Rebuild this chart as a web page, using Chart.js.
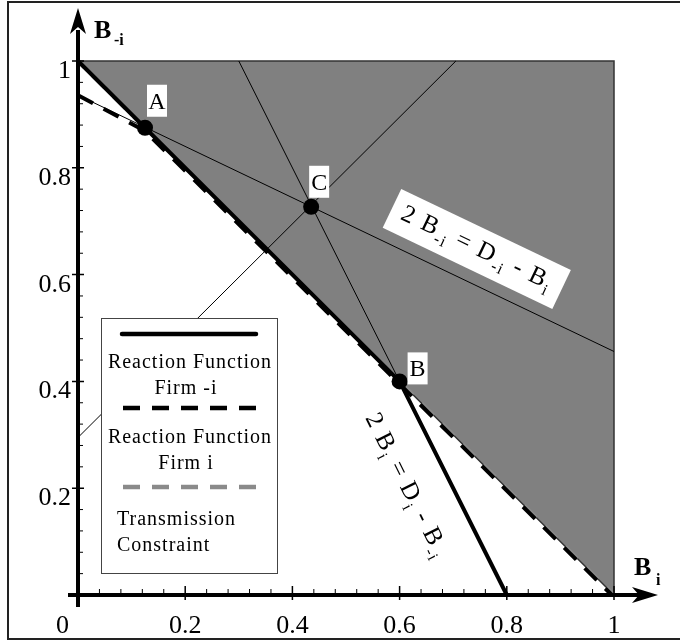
<!DOCTYPE html>
<html>
<head>
<meta charset="utf-8">
<script src="https://cdn.jsdelivr.net/npm/chart.js@4.4.1/dist/chart.umd.min.js"></script>
<style>
html, body { margin: 0; padding: 0; background: #fff; }
canvas { display: block; }
</style>
</head>
<body>
<canvas id="grafico" width="680" height="641"></canvas>
<script>
// reaction function firm -i (solid, kinks at B)
const solidX = [0, 0.6, 0.8]
const solidY = [1, 0.4, 0]
// reaction function firm i (black dashed), runs just under the solid one
const dashX = [0, 0.125, 0.996]
const dashY = [0.936, 0.869, 0]
// transmission constraint (grey dashed)
const constrX = [0, 1]
const constrY = [1, 0]
// thin lines
const lineMiX = [0, 1]          // 2 B-i = D-i - Bi
const lineMiY = [0.936, 0.456]
const lineIX = [0.3, 0.6]       // 2 Bi = Di - B-i
const lineIY = [1, 0.4]
const diagX = [0, 0.705]
const diagY = [0.295, 1]
// shaded region
const areaX = [0, 1, 1, 0]
const areaY = [1, 1, 0, 1]
// named points
const ptNames = ['A', 'B', 'C']
const ptX = [0.125, 0.6, 0.435]
const ptY = [0.875, 0.4, 0.727]

const xTicks = [0.2, 0.4, 0.6, 0.8, 1]
const xTickLabels = ['0.2', '0.4', '0.6', '0.8', '1']
const yTicks = [0.2, 0.4, 0.6, 0.8, 1]
const yTickLabels = ['0.2', '0.4', '0.6', '0.8', '1']
const legendLabels = [['Reaction Function', 'Firm -i'], ['Reaction Function', 'Firm i'], ['Transmission', 'Constraint']]

const serif = '"Liberation Serif", "Times New Roman", serif'
const pts = (xs, ys) => xs.map((x, i) => ({x: x, y: ys[i]}))

// where the letters sit relative to their dot (pixels)
const ptLabelOffset = [[12, -27], [18, -13], [8, -25]]

function richText(ctx, parts, cx, cy, ang, size, subSize, box) {
    ctx.save()
    ctx.translate(cx, cy)
    ctx.rotate(ang)
    ctx.letterSpacing = '1.5px'
    let w = 0
    parts.forEach(p => {
        ctx.font = (p.sub ? subSize : size) + 'px ' + serif
        p.w = ctx.measureText(p.t).width
        w += p.w
    })
    if (box) {
        ctx.fillStyle = '#fff'
        ctx.fillRect(-box[0] / 2, -box[1] / 2, box[0], box[1])
    }
    let x = -w / 2
    ctx.fillStyle = '#000'
    ctx.textAlign = 'left'
    ctx.textBaseline = 'alphabetic'
    parts.forEach(p => {
        ctx.font = (p.sub ? subSize : size) + 'px ' + serif
        ctx.fillText(p.t, x, p.sub ? 13 : 6)
        x += p.w
    })
    ctx.letterSpacing = '0px'
    ctx.restore()
}

function arrow(ctx, tx, ty, dx, dy) {
    // dx,dy unit direction of the arrow
    const nx = -dy, ny = dx
    ctx.beginPath()
    ctx.moveTo(tx, ty)
    ctx.lineTo(tx - dx * 26 + nx * 8, ty - dy * 26 + ny * 8)
    ctx.lineTo(tx - dx * 19, ty - dy * 19)
    ctx.lineTo(tx - dx * 26 - nx * 8, ty - dy * 26 - ny * 8)
    ctx.closePath()
    ctx.fill()
}

const decor = {
    id: 'decor',
    beforeDraw(chart) {
        const ctx = chart.ctx
        ctx.save()
        ctx.fillStyle = '#fff'
        ctx.fillRect(0, 0, chart.width, chart.height)
        ctx.strokeStyle = '#222'
        ctx.lineWidth = 2
        ctx.strokeRect(8, 2, 690, 637)
        ctx.restore()
    },
    afterDatasetsDraw(chart) {
        const ctx = chart.ctx
        const sx = chart.scales.x, sy = chart.scales.y
        const x0 = sx.getPixelForValue(0), y0 = sy.getPixelForValue(0)
        ctx.save()

        // axes
        ctx.strokeStyle = '#000'
        ctx.fillStyle = '#000'
        ctx.lineWidth = 4
        ctx.beginPath()
        ctx.moveTo(x0, y0 + 12)
        ctx.lineTo(x0, 30)
        ctx.moveTo(x0 - 10, y0)
        ctx.lineTo(640, y0)
        ctx.stroke()
        arrow(ctx, x0, 8, 0, -1)
        arrow(ctx, 658, y0, 1, 0)

        // ticks, 5 per label step
        for (let i = 1; i <= 25; i++) {
            const v = i / 25
            const major = i % 5 === 0
            const px = sx.getPixelForValue(v), py = sy.getPixelForValue(v)
            ctx.lineWidth = major ? 1.5 : 1
            ctx.beginPath()
            ctx.moveTo(px, y0 - (major ? 9 : 6))
            ctx.lineTo(px, y0 + (major ? 5 : 0))
            ctx.moveTo(x0 - (major ? 6 : 0), py)
            ctx.lineTo(x0 + (major ? 6 : 5), py)
            ctx.stroke()
        }

        // tick labels
        ctx.font = '26px ' + serif
        ctx.textBaseline = 'alphabetic'
        ctx.textAlign = 'center'
        xTicks.forEach((v, i) => ctx.fillText(xTickLabels[i], sx.getPixelForValue(v), 633))
        ctx.textAlign = 'right'
        ctx.fillText('0', 69, 633)
        yTicks.forEach((v, i) => ctx.fillText(yTickLabels[i], 71, sy.getPixelForValue(v) + 17))

        // axis titles
        ctx.textAlign = 'left'
        ctx.font = 'bold 26px ' + serif
        ctx.fillText('B', 94, 38)
        ctx.fillText('B', 634, 575)
        ctx.font = 'bold 16px ' + serif
        ctx.fillText('-i', 114, 45)
        ctx.fillText('i', 656, 585)

        // point letters
        ctx.font = '24px ' + serif
        ctx.textAlign = 'center'
        ptNames.forEach((n, i) => {
            const px = sx.getPixelForValue(ptX[i]) + ptLabelOffset[i][0]
            const py = sy.getPixelForValue(ptY[i]) + ptLabelOffset[i][1]
            ctx.fillStyle = '#fff'
            ctx.fillRect(px - 10, py - 16, 20, 32)
            ctx.fillStyle = '#000'
            ctx.fillText(n, px, py + 8)
        })

        // equation labels along the lines
        const a1 = Math.atan2(sy.getPixelForValue(lineMiY[1]) - sy.getPixelForValue(lineMiY[0]),
            sx.getPixelForValue(lineMiX[1]) - sx.getPixelForValue(lineMiX[0]))
        richText(ctx, [{t: '2 B'}, {t: '-i', sub: true}, {t: ' = D'}, {t: '-i', sub: true}, {t: ' - B'}, {t: 'i', sub: true}],
            sx.getPixelForValue(0.744), sy.getPixelForValue(0.648), a1, 25, 16, [188, 43])
        const a2 = Math.atan2(sy.getPixelForValue(lineIY[1]) - sy.getPixelForValue(lineIY[0]),
            sx.getPixelForValue(lineIX[1]) - sx.getPixelForValue(lineIX[0]))
        richText(ctx, [{t: '2 B'}, {t: 'i', sub: true}, {t: ' = D'}, {t: 'i', sub: true}, {t: ' - B'}, {t: '-i', sub: true}],
            sx.getPixelForValue(0.612), sy.getPixelForValue(0.204), a2, 25, 16, null)

        // legend
        ctx.fillStyle = '#fff'
        ctx.fillRect(101, 318, 176, 255)
        ctx.strokeStyle = '#444'
        ctx.lineWidth = 1
        ctx.strokeRect(101.5, 318.5, 176, 255)
        ctx.lineWidth = 4.5
        ctx.lineCap = 'round'
        ctx.strokeStyle = '#000'
        ctx.beginPath(); ctx.moveTo(122, 334); ctx.lineTo(256, 334); ctx.stroke()
        ctx.lineCap = 'butt'
        ctx.setLineDash([17, 12])
        ctx.beginPath(); ctx.moveTo(123, 408); ctx.lineTo(256, 408); ctx.stroke()
        ctx.strokeStyle = '#8a8a8a'
        ctx.beginPath(); ctx.moveTo(123, 487); ctx.lineTo(256, 487); ctx.stroke()
        ctx.setLineDash([])
        ctx.fillStyle = '#000'
        ctx.font = '20px ' + serif
        ctx.letterSpacing = '1px'
        ctx.textAlign = 'center'
        ctx.fillText(legendLabels[0][0], 190, 368)
        ctx.fillText(legendLabels[0][1], 186, 394)
        ctx.fillText(legendLabels[1][0], 190, 443)
        ctx.fillText(legendLabels[1][1], 186, 469)
        ctx.textAlign = 'left'
        ctx.fillText(legendLabels[2][0], 117, 525)
        ctx.fillText(legendLabels[2][1], 117, 551)
        ctx.letterSpacing = '0px'

        ctx.restore()
    }
}

const thin = {borderColor: '#000', borderWidth: 1, pointRadius: 0, showLine: true, clip: false}

const data = {
    datasets: [
        {data: pts(ptX, ptY), showLine: false, pointRadius: 8, pointBackgroundColor: '#000', pointBorderWidth: 0, clip: false},
        {data: pts(solidX, solidY), showLine: true, borderColor: '#000', borderWidth: 4, pointRadius: 0, clip: false},
        {data: pts(dashX, dashY), showLine: true, borderColor: '#000', borderWidth: 4, borderDash: [17, 12], pointRadius: 0, clip: false},
        {data: pts(constrX, constrY), showLine: true, borderColor: '#8a8a8a', borderWidth: 4, borderDash: [17, 12], borderDashOffset: 8, pointRadius: 0, clip: false},
        Object.assign({data: pts(lineMiX, lineMiY)}, thin),
        Object.assign({data: pts(lineIX, lineIY)}, thin),
        Object.assign({data: pts(diagX, diagY)}, thin),
        {data: pts(areaX, areaY), showLine: true, fill: 'shape', backgroundColor: '#808080', borderColor: '#333', borderWidth: 1.5, pointRadius: 0, clip: false}
    ]
}

const config = {
    type: 'scatter',
    data: data,
    options: {
        responsive: false,
        animation: false,
        layout: {padding: {left: 78, right: 66, top: 61, bottom: 46}},
        scales: {
            x: {type: 'linear', min: 0, max: 1, display: false},
            y: {type: 'linear', min: 0, max: 1, display: false}
        },
        plugins: {legend: {display: false}, tooltip: {enabled: false}}
    },
    plugins: [decor]
}

const grafico = new Chart(document.getElementById('grafico'), config)
</script>
</body>
</html>
